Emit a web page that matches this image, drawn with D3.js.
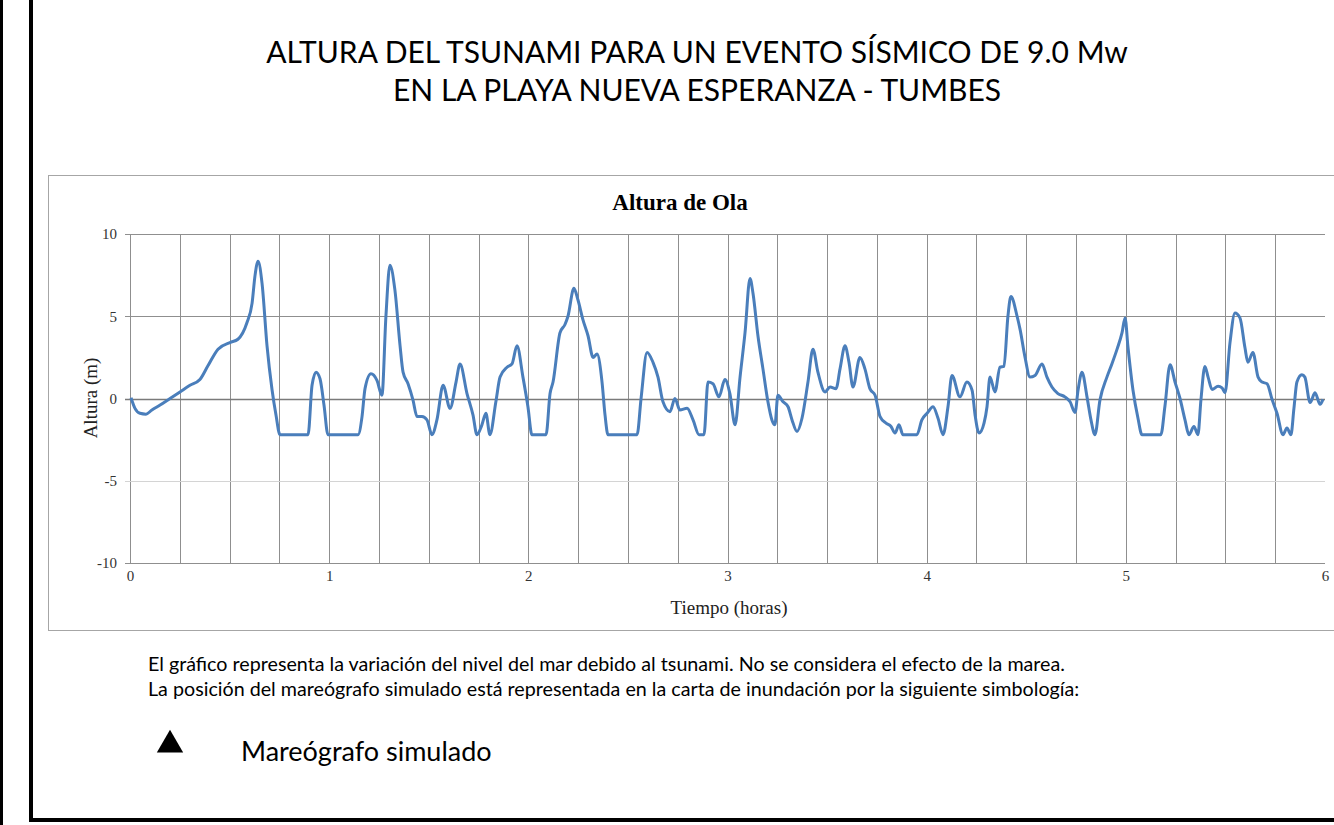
<!DOCTYPE html>
<html>
<head>
<meta charset="utf-8">
<script src="https://cdn.jsdelivr.net/npm/d3@7"></script>
<style>
  body { margin: 0; background: #fff; }
  .title { font-family: Lato, "Noto Sans", sans-serif; font-size: 30px; fill: #000; }
  .note { font-family: Lato, "Noto Sans", sans-serif; font-size: 19.7px; fill: #000; }
  .legend { font-family: Lato, "Noto Sans", sans-serif; font-size: 27px; fill: #000; }
  .chart-title { font-family: "Liberation Serif", serif; font-size: 23px; font-weight: bold; }
  .label { font-family: "Liberation Serif", serif; font-size: 19px; fill: #222; }
  .tick text { font-family: "Liberation Serif", serif; font-size: 15px; fill: #333; }
</style>
</head>
<body>
<div class="svg-container"></div>
<script>
var height = 825;
var width = 1334;

// tiempo en horas, altura en metros
var tiempo = [0.005, 0.025, 0.050, 0.080, 0.110, 0.151, 0.201, 0.251, 0.301, 0.351,
  0.392, 0.442, 0.502, 0.542, 0.587, 0.613, 0.628, 0.643, 0.663, 0.688,
  0.713, 0.733, 0.753, 0.894, 0.914, 0.934, 0.954, 0.974, 0.994, 1.145,
  1.165, 1.180, 1.210, 1.240, 1.265, 1.285, 1.305, 1.330, 1.356, 1.371,
  1.396, 1.421, 1.441, 1.466, 1.491, 1.516, 1.541, 1.572, 1.607, 1.637,
  1.657, 1.692, 1.722, 1.742, 1.767, 1.787, 1.807, 1.837, 1.858, 1.893,
  1.918, 1.943, 1.973, 1.998, 2.018, 2.089, 2.109, 2.124, 2.159, 2.184,
  2.199, 2.229, 2.249, 2.274, 2.300, 2.325, 2.345, 2.370, 2.385, 2.400,
  2.546, 2.566, 2.596, 2.626, 2.651, 2.676, 2.711, 2.736, 2.761, 2.797,
  2.827, 2.857, 2.882, 2.902, 2.927, 2.957, 2.987, 3.012, 3.038, 3.063,
  3.088, 3.113, 3.128, 3.153, 3.178, 3.203, 3.223, 3.238, 3.253, 3.279,
  3.304, 3.324, 3.349, 3.374, 3.404, 3.429, 3.454, 3.490, 3.515, 3.545,
  3.565, 3.590, 3.610, 3.630, 3.665, 3.690, 3.715, 3.741, 3.766, 3.796,
  3.821, 3.841, 3.861, 3.881, 3.951, 3.976, 4.002, 4.032, 4.057, 4.082,
  4.107, 4.127, 4.167, 4.202, 4.228, 4.243, 4.263, 4.288, 4.303, 4.318,
  4.343, 4.368, 4.388, 4.408, 4.423, 4.454, 4.469, 4.494, 4.519, 4.544,
  4.579, 4.604, 4.629, 4.659, 4.694, 4.720, 4.745, 4.760, 4.780, 4.805,
  4.825, 4.845, 4.870, 4.905, 4.930, 4.956, 4.981, 4.996, 5.011, 5.036,
  5.061, 5.081, 5.176, 5.196, 5.222, 5.247, 5.272, 5.297, 5.317, 5.342,
  5.362, 5.377, 5.397, 5.413, 5.433, 5.463, 5.483, 5.498, 5.523, 5.548,
  5.573, 5.598, 5.613, 5.638, 5.664, 5.684, 5.709, 5.734, 5.759, 5.789,
  5.809, 5.829, 5.844, 5.859, 5.884, 5.899, 5.925, 5.950, 5.975, 5.990];

var altura = [0.05, -0.6, -0.9, -0.95, -0.7, -0.4, 0.0, 0.4, 0.8, 1.15,
  2.0, 3.0, 3.4, 3.6, 4.6, 5.8, 7.5, 8.35, 7.0, 3.2,
  0.55, -1.0, -2.2, -2.2, 0.8, 1.6, 1.2, -0.4, -2.2, -2.2,
  -1.1, 0.6, 1.5, 1.1, 0.2, 5.0, 8.1, 6.6, 3.2, 1.6,
  0.9, -0.1, -1.1, -1.1, -1.3, -2.2, -1.3, 0.8, -0.6, 1.0,
  2.1, 0.3, -1.0, -2.2, -1.6, -0.9, -2.2, -0.2, 1.3, 1.9,
  2.1, 3.2, 1.3, -0.5, -2.2, -2.2, 0.3, 1.0, 4.0, 4.5,
  5.0, 6.7, 6.0, 4.8, 3.8, 2.5, 2.7, 1.0, -1.0, -2.2,
  -2.2, 0.0, 2.8, 2.2, 1.3, -0.2, -0.8, 0.0, -0.7, -0.6,
  -1.3, -2.2, -2.2, 1.0, 0.9, 0.1, 1.15, 0.3, -1.6, 1.3,
  4.0, 7.3, 6.4, 3.8, 1.8, -0.2, -1.3, -1.6, 0.2, -0.2,
  -0.5, -1.3, -2.0, -1.2, 1.0, 3.0, 1.6, 0.4, 0.7, 0.6,
  1.8, 3.2, 2.2, 0.7, 2.5, 1.8, 0.6, 0.2, -1.1, -1.5,
  -1.7, -2.1, -1.6, -2.2, -2.2, -1.3, -0.9, -0.5, -1.2, -2.2,
  -0.5, 1.4, 0.1, 1.0, 0.5, -1.0, -2.1, -1.5, -0.5, 1.3,
  0.4, 1.9, 1.95, 5.0, 6.2, 5.0, 4.2, 2.5, 1.3, 1.4,
  2.1, 1.3, 0.7, 0.3, 0.1, -0.2, -0.85, 0.5, 1.6, 0.1,
  -1.3, -2.2, -0.1, 1.3, 2.1, 3.0, 4.0, 4.9, 3.1, 0.5,
  -1.2, -2.2, -2.2, -0.5, 2.05, 1.0, 0.0, -1.3, -2.2, -1.7,
  -2.2, -0.1, 1.95, 1.3, 0.55, 0.75, 0.65, 0.35, 3.4, 5.2,
  4.9, 3.1, 2.2, 2.8, 1.3, 1.0, 0.9, -0.05, -0.9, -2.2,
  -1.8, -2.2, -0.6, 1.0, 1.45, 1.3, -0.25, 0.35, -0.35, -0.05];

var xTicks = [0, 1, 2, 3, 4, 5, 6];
var yTicks = [-10, -5, 0, 5, 10];
var xGrid = d3.range(0, 6, 0.25);

var titulo = ["ALTURA DEL TSUNAMI PARA UN EVENTO SÍSMICO DE 9.0 Mw",
              "EN LA PLAYA NUEVA ESPERANZA - TUMBES"];
var notas = ["El gráfico representa la variación del nivel del mar debido al tsunami. No se considera el efecto de la marea.",
             "La posición del mareógrafo simulado está representada en la carta de inundación por la siguiente simbología:"];

var data = tiempo.map(function(t, i) { return { t: t, h: altura[i] }; });

var plot = { "top": 234, "right": 1325, "bottom": 563, "left": 130 };

var svg = d3.select(".svg-container")
              .append("svg")
              .attr("width", width)
              .attr("height", height);

var scaleX = d3.scaleLinear()
            .domain([0, 6])
            .range([plot.left, plot.right]);

var scaleY = d3.scaleLinear()
            .domain([-10, 10])
            .range([plot.bottom, plot.top]);

drawFrame();
drawTitle();
drawChartBox();
drawGrid();
drawAxes();
drawLine(data);
drawNotes();

function drawFrame() {
    svg.append("rect").attr("x", 0).attr("y", 0).attr("width", 3).attr("height", height).attr("fill", "#000");
    svg.append("rect").attr("x", 29).attr("y", 0).attr("width", 4).attr("height", 822).attr("fill", "#000");
    svg.append("rect").attr("x", 29).attr("y", 818).attr("width", width).attr("height", 4).attr("fill", "#000");
};

function drawTitle() {
    svg.selectAll(".title")
        .data(titulo)
        .enter()
        .append("text")
        .attr("class", "title")
        .attr("x", 697)
        .attr("y", function(d, i) { return 63 + i * 38; })
        .attr("text-anchor", "middle")
        .text(function(d) { return d; });
};

function drawChartBox() {
    svg.append("rect")
        .attr("x", 48.5)
        .attr("y", 175.5)
        .attr("width", 1300)
        .attr("height", 455)
        .attr("fill", "#fff")
        .attr("stroke", "#a6a6a6");

    svg.append("text")
        .attr("class", "chart-title")
        .attr("x", 680)
        .attr("y", 210)
        .attr("text-anchor", "middle")
        .text("Altura de Ola");

    svg.append("text")
        .attr("class", "label")
        .attr("x", 729)
        .attr("y", 614)
        .attr("text-anchor", "middle")
        .text("Tiempo (horas)");

    svg.append("text")
        .attr("class", "label")
        .attr("transform", "rotate(270)")
        .attr("x", -398)
        .attr("y", 97)
        .attr("text-anchor", "middle")
        .text("Altura (m)");
};

function drawGrid() {
    svg.append("g")
        .selectAll("line")
        .data(xGrid)
        .enter()
        .append("line")
        .attr("x1", function(d) { return Math.round(scaleX(d)) + 0.5; })
        .attr("x2", function(d) { return Math.round(scaleX(d)) + 0.5; })
        .attr("y1", plot.top)
        .attr("y2", plot.bottom)
        .attr("stroke", "#8f8f8f")
        .attr("stroke-width", 1);

    svg.append("g")
        .selectAll("line")
        .data(yTicks)
        .enter()
        .append("line")
        .attr("x1", plot.left - 5)
        .attr("x2", plot.right)
        .attr("y1", function(d) { return Math.round(scaleY(d)) + 0.5; })
        .attr("y2", function(d) { return Math.round(scaleY(d)) + 0.5; })
        .attr("stroke", function(d) { return d == -5 ? "#d4d4d4" : (d == 0 ? "#7a7a7a" : "#8f8f8f"); })
        .attr("stroke-width", function(d) { return d == 0 ? 1.5 : 1; });
};

function drawAxes() {
    var yAxis = svg.append("g")
        .attr("transform", "translate(" + (plot.left - 6) + ",0)")
        .call(d3.axisLeft(scaleY).tickValues(yTicks).tickSize(0).tickPadding(7)
                .tickFormat(function(d) { return String(d); }));
    yAxis.select(".domain").remove();

    var xAxis = svg.append("g")
        .attr("transform", "translate(0," + (plot.bottom + 4) + ")")
        .call(d3.axisBottom(scaleX).tickValues(xTicks).tickSize(0).tickPadding(3)
                .tickFormat(function(d) { return String(d); }));
    xAxis.select(".domain").remove();
};

function drawLine(dataset) {
    var valueline = d3.line()
        .x(function(d) { return scaleX(d.t); })
        .y(function(d) { return scaleY(d.h); })
        .curve(d3.curveMonotoneX);

    svg.append("path")
        .datum(dataset)
        .attr("fill", "none")
        .attr("stroke", "#4a7ebb")
        .attr("stroke-width", 3)
        .attr("stroke-linejoin", "round")
        .attr("d", valueline);
};

function drawNotes() {
    svg.selectAll(".note")
        .data(notas)
        .enter()
        .append("text")
        .attr("class", "note")
        .attr("x", 148)
        .attr("y", function(d, i) { return 671 + i * 25; })
        .text(function(d) { return d; });

    svg.append("path")
        .attr("d", d3.symbol().type(d3.symbolTriangle).size(300))
        .attr("transform", "translate(170,745)")
        .attr("fill", "#000");

    svg.append("text")
        .attr("class", "legend")
        .attr("x", 241)
        .attr("y", 761)
        .text("Mareógrafo simulado");
};
</script>
</body>
</html>
